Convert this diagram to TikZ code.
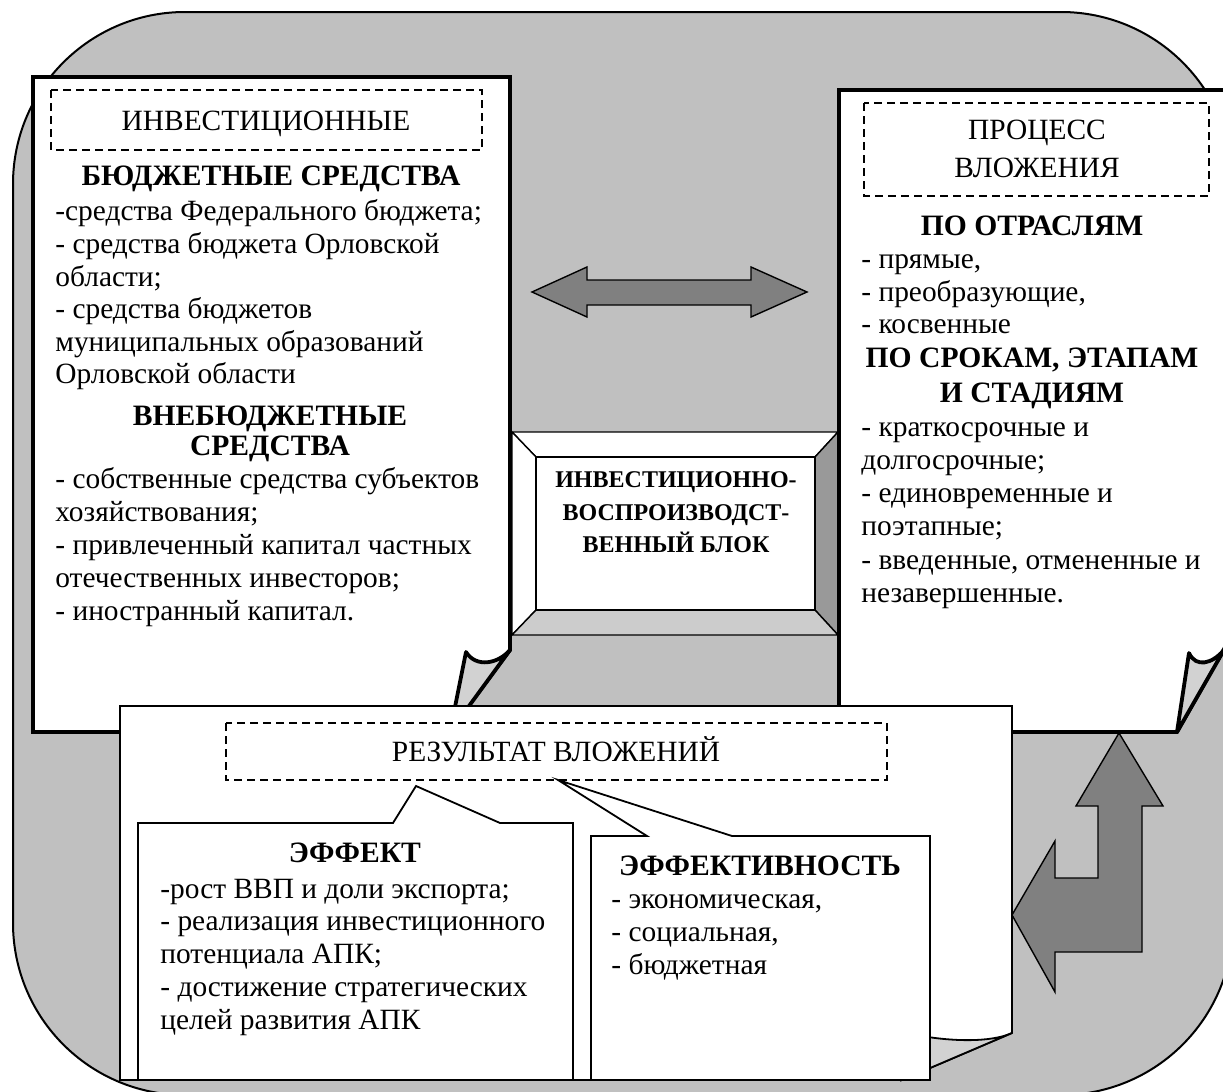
\documentclass[tikz,border=0pt]{standalone}
\usepackage{fontspec}
\setmainfont{Liberation Serif}
\definecolor{bggray}{RGB}{192,192,192}
\definecolor{flapgray}{RGB}{210,210,210}
\definecolor{arrowgray}{RGB}{128,128,128}
\definecolor{bevdark}{RGB}{153,153,153}
\definecolor{bevlight}{RGB}{204,204,204}
\tikzset{
  bgshape/.style={fill=bggray, draw=black, line width=1pt},
  bigbox/.style={fill=white, draw=black, line width=1.9pt, line join=miter},
  flapshape/.style={fill=flapgray, draw=black, line width=1.9pt, line join=round},
  thinbox/.style={fill=white, draw=black, line width=0.9pt},
  thinflap/.style={fill=flapgray, draw=black, line width=0.9pt},
  dbox/.style={draw=black, dash pattern=on 4pt off 2.5pt, line width=0.7pt},
  blockarrow/.style={fill=arrowgray, draw=black, line width=0.7pt, line join=miter},
  bevface/.style={draw=black, line width=0.7pt},
  txt/.style={inner sep=0pt, anchor=base west, font=\fontsize{14.7}{17}\selectfont},
  ctxt/.style={inner sep=0pt, anchor=base, font=\fontsize{14.7}{17}\selectfont},
  btxt/.style={inner sep=0pt, anchor=base, font=\fontsize{14.8}{17}\selectfont\bfseries},
  smtxt/.style={inner sep=0pt, anchor=base, font=\fontsize{12}{14}\selectfont\bfseries},
}
\begin{document}
\begin{tikzpicture}[x=0.5pt,y=-0.5pt]
\useasboundingbox (0,0) rectangle (1223,1092);
\clip (0,0) rectangle (1223,1092);
% background
\draw[bgshape, rounded corners=86pt] (13,12) rectangle (1233,1095);

% central bevel block
\fill[white] (512,432) rectangle (838,635);
\draw[bevface, fill=white] (512,432) -- (838,432) -- (815,457) -- (536,457) -- cycle;
\draw[bevface, fill=white] (512,432) -- (536,457) -- (536,610) -- (512,635) -- cycle;
\draw[bevface, fill=bevdark] (838,432) -- (838,635) -- (815,610) -- (815,457) -- cycle;
\draw[bevface, fill=bevlight] (512,635) -- (838,635) -- (815,610) -- (536,610) -- cycle;
\draw[bevface, fill=white] (536,457) rectangle (815,610);
\node[smtxt] (c1) at (676,487) {ИНВЕСТИЦИОННО-};
\node[smtxt] (c2) at (676,520) {ВОСПРОИЗВОДСТ-};
\node[smtxt] (c3) at (676,552) {ВЕННЫЙ БЛОК};

% double arrow
\draw[blockarrow] (532,292) -- (587,267) -- (587,280) -- (751,280) -- (751,267) -- (807,292)
  -- (751,317) -- (751,305) -- (587,305) -- (587,317) -- cycle;

% left box
\draw[bigbox] (33,77) -- (510,77) -- (510,650) -- (449,732) -- (33,732) -- cycle;
\draw[flapshape] (510,650) .. controls (498,664) and (476,668) .. (466,652) -- (450,732) -- cycle;
\draw[dbox] (51,90) rectangle (482,150);
\node[ctxt] (linv) at (266,130) {ИНВЕСТИЦИОННЫЕ};
\node[btxt] (l0) at (271,185) {БЮДЖЕТНЫЕ СРЕДСТВА};
\node[txt] (l1) at (55,220) {-средства Федерального бюджета;};
\node[txt] (l2) at (55,253) {- средства бюджета Орловской};
\node[txt] (l3) at (55,286) {области;};
\node[txt] (l4) at (55,318) {- средства бюджетов};
\node[txt] (l5) at (55,351) {муниципальных образований};
\node[txt] (l6) at (55,383) {Орловской области};
\node[btxt] (l7) at (270,425) {ВНЕБЮДЖЕТНЫЕ};
\node[btxt] (l8) at (270,455) {СРЕДСТВА};
\node[txt] (l9) at (55,488) {- собственные средства субъектов};
\node[txt] (l10) at (55,521) {хозяйствования;};
\node[txt] (l11) at (55,554) {- привлеченный капитал частных};
\node[txt] (l12) at (55,587) {отечественных инвесторов;};
\node[txt] (l13) at (55,620) {- иностранный капитал.};

% right box
\draw[bigbox] (839,732) -- (839,90) -- (1228,90) -- (1228,642) -- (1177,732) -- cycle;
\draw[flapshape] (1189,653) .. controls (1196,668) and (1212,664) .. (1224,650) -- (1177,732) -- cycle;
\draw[dbox] (864,103) rectangle (1209,196);
\node[ctxt] (r0a) at (1037,140) {ПРОЦЕСС};
\node[ctxt] (r0b) at (1037,177) {ВЛОЖЕНИЯ};
\node[btxt] (r1) at (1032,235) {ПО ОТРАСЛЯМ};
\node[txt] (r2) at (861,268) {- прямые,};
\node[txt] (r3) at (861,301) {- преобразующие,};
\node[txt] (r4) at (861,333) {- косвенные};
\node[btxt] (r5) at (1032,367) {ПО СРОКАМ, ЭТАПАМ};
\node[btxt] (r6) at (1032,402) {И СТАДИЯМ};
\node[txt] (r7) at (861,436) {- краткосрочные и};
\node[txt] (r8) at (861,469) {долгосрочные;};
\node[txt] (r9) at (861,502) {- единовременные и};
\node[txt] (r10) at (861,535) {поэтапные;};
\node[txt] (r11) at (861,569) {- введенные, отмененные и};
\node[txt] (r12) at (861,602) {незавершенные.};

% bottom box
\draw[thinbox] (120,706) -- (1012,706) -- (1012,1033) -- (902,1080) -- (120,1080) -- cycle;
\draw[thinflap] (1012,1033) .. controls (990,1043) and (950,1041) .. (922,1036) -- (902,1080) -- cycle;
\draw[dbox] (226,723) rectangle (887,780);
\node[ctxt] (res) at (556,761) {РЕЗУЛЬТАТ ВЛОЖЕНИЙ};

% effect callout
\draw[thinbox] (138,1080) -- (138,823) -- (393,823) -- (416,786) -- (500,823) -- (573,823) -- (573,1080) -- cycle;
\node[btxt] (e0) at (355,862) {ЭФФЕКТ};
\node[txt] (e1) at (160,898) {-рост ВВП и доли экспорта;};
\node[txt] (e2) at (160,930) {- реализация инвестиционного};
\node[txt] (e3) at (160,963) {потенциала АПК;};
\node[txt] (e4) at (160,996) {- достижение стратегических};
\node[txt] (e5) at (160,1029) {целей развития АПК};

% efficiency callout
\draw[thinbox] (591,1080) -- (591,836) -- (647,836) -- (558,780) -- (732,836) -- (930,836) -- (930,1080) -- cycle;
\node[btxt] (f0) at (760,875) {ЭФФЕКТИВНОСТЬ};
\node[txt] (f1) at (611,908) {- экономическая,};
\node[txt] (f2) at (611,941) {- социальная,};
\node[txt] (f3) at (611,974) {- бюджетная};

% bent arrow
\draw[blockarrow] (1119,733) -- (1163,806) -- (1142,806) -- (1142,952) -- (1055,952) -- (1055,992)
  -- (1012,915) -- (1055,841) -- (1055,878) -- (1098,878) -- (1098,806) -- (1076,806) -- cycle;
\end{tikzpicture}
\end{document}
